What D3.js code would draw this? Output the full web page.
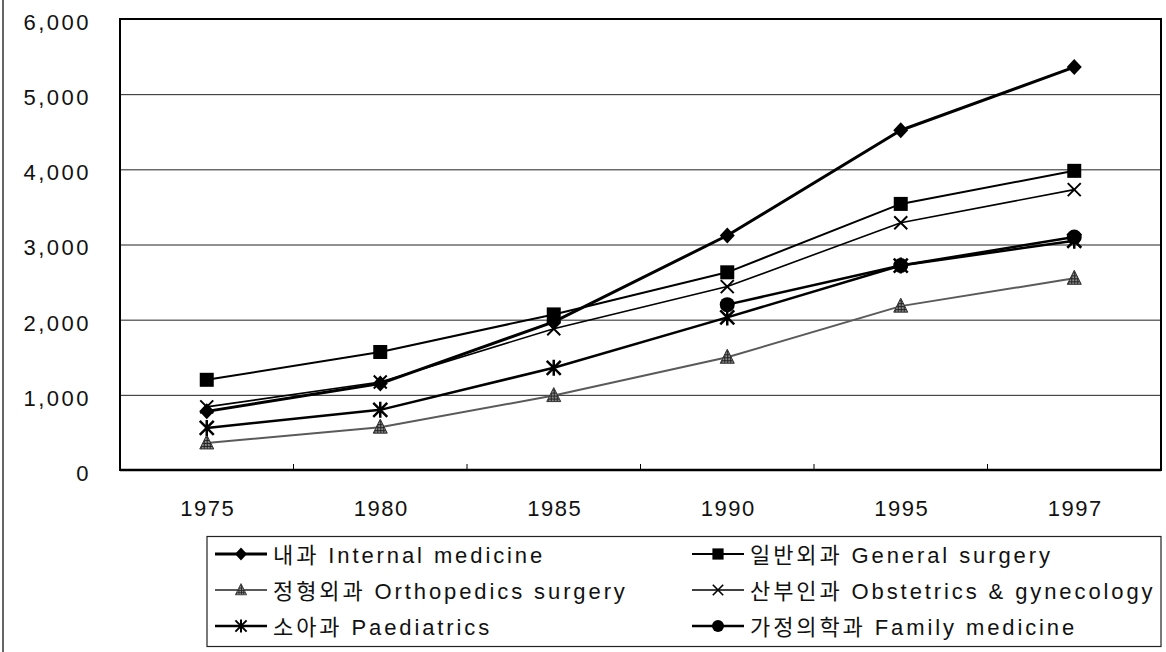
<!doctype html>
<html lang="ko">
<head>
  <meta charset="utf-8">
  <title>Specialists by field, 1975-1997</title>
  <style>
    body { margin: 0; background: #fff; }
    svg { display: block; }
    text {
      font-family: "Liberation Sans", Arial, "Noto Sans CJK KR", sans-serif;
      fill: #111;
    }
    .grid line { stroke: #222; stroke-width: 1; }
    .grid path { display: none; }
    .lbl text { font-size: 22px; letter-spacing: 2.5px; }
    .xl text { letter-spacing: 1.5px; }
    .lbl path, .lbl line { display: none; }
  </style>
</head>
<body>
<script src="https://cdn.jsdelivr.net/npm/d3@7"></script>
<script>
(function() {

var years = ["1975", "1980", "1985", "1990", "1995", "1997"];
var yTicks = [0, 1000, 2000, 3000, 4000, 5000, 6000];

var internal    = [780, 1150, 1970, 3120, 4520, 5360];
var general     = [1200, 1570, 2070, 2630, 3540, 3980];
var ortho       = [360, 570, 990, 1500, 2180, 2550];
var obstetrics  = [840, 1170, 1880, 2440, 3290, 3730];
var paediatrics = [560, 800, 1360, 2030, 2720, 3050];
var family      = [null, null, null, 2200, 2720, 3100];

var names = [
  "내과 Internal medicine",
  "일반외과 General surgery",
  "정형외과 Orthopedics surgery",
  "산부인과 Obstetrics & gynecology",
  "소아과 Paediatrics",
  "가정의학과 Family medicine"
];

var series = [
  {name: names[0], values: internal,    marker: "diamond",  color: "#000", width: 3},
  {name: names[1], values: general,     marker: "square",   color: "#000", width: 2},
  {name: names[2], values: ortho,       marker: "triangle", color: "#5a5a5a", width: 2},
  {name: names[3], values: obstetrics,  marker: "cross",    color: "#000", width: 1.6},
  {name: names[4], values: paediatrics, marker: "star",     color: "#000", width: 2.5},
  {name: names[5], values: family,      marker: "circle",   color: "#000", width: 2.5}
];

var W = 1166, H = 652;
var left = 120, right = 1161, top = 19, bottom = 470;

var svg = d3.select("body").append("svg")
    .attr("width", W)
    .attr("height", H);

var defs = svg.append("defs");
var pat = defs.append("pattern")
    .attr("id", "hatch")
    .attr("width", 3).attr("height", 3)
    .attr("patternUnits", "userSpaceOnUse");
pat.append("rect").attr("width", 3).attr("height", 3).attr("fill", "#888");
pat.append("rect").attr("width", 1).attr("height", 3).attr("fill", "#222");
pat.append("rect").attr("width", 3).attr("height", 1).attr("fill", "#222");

// page edge line
svg.append("line")
    .attr("x1", 3).attr("x2", 3).attr("y1", 0).attr("y2", H)
    .attr("stroke", "#333").attr("stroke-width", 1.5);

var x = d3.scaleBand().domain(years).range([left, right]);
var y = d3.scaleLinear().domain([0, 6000]).range([bottom, top]);
var cx = function(d) { return x(d) + x.bandwidth() / 2; };

// grid
svg.append("g")
    .attr("class", "grid")
    .attr("transform", "translate(" + left + ",0)")
    .call(d3.axisLeft(y).tickValues(yTicks.slice(1, -1)).tickSize(-(right - left)).tickFormat(""));

// axis labels
svg.append("g")
    .attr("class", "lbl")
    .attr("transform", "translate(91,0)")
    .call(d3.axisLeft(y).tickValues(yTicks).tickSize(0).tickPadding(0).tickFormat(d3.format(",")))
    .selectAll("text").attr("dy", "0.47em");

svg.append("g")
    .attr("class", "lbl xl")
    .attr("transform", "translate(1," + bottom + ")")
    .call(d3.axisBottom(x).tickSize(0).tickPadding(37))
    .selectAll("text").attr("dy", "0.4em");

// plot frame
svg.append("rect")
    .attr("x", left).attr("y", top)
    .attr("width", right - left).attr("height", bottom - top)
    .attr("fill", "none").attr("stroke", "#000").attr("stroke-width", 2);
svg.append("line")
    .attr("x1", left).attr("x2", right).attr("y1", bottom).attr("y2", bottom)
    .attr("stroke", "#000").attr("stroke-width", 2.5);

// category ticks
svg.append("g").selectAll("line")
    .data(years.slice(1))
    .enter().append("line")
    .attr("x1", function(d) { return x(d); })
    .attr("x2", function(d) { return x(d); })
    .attr("y1", bottom).attr("y2", bottom - 6)
    .attr("stroke", "#000").attr("stroke-width", 1);

function drawMarker(g, type, s) {
  var m;
  if (type === "diamond") {
    m = g.append("path").attr("d", "M0,-8L7.5,0L0,8L-7.5,0Z").attr("fill", "#000");
  } else if (type === "square") {
    m = g.append("rect").attr("x", -7).attr("y", -7).attr("width", 14).attr("height", 14).attr("fill", "#000");
  } else if (type === "triangle") {
    m = g.append("path").attr("d", "M0,-8L7,6L-7,6Z")
      .attr("fill", "url(#hatch)").attr("stroke", "#333").attr("stroke-width", 1);
  } else if (type === "cross") {
    m = g.append("path").attr("d", "M-6.5,-6.5L6.5,6.5M-6.5,6.5L6.5,-6.5")
      .attr("stroke", "#000").attr("stroke-width", 2).attr("fill", "none");
  } else if (type === "star") {
    m = g.append("path").attr("d", "M-7,-7L7,7M-7,7L7,-7M0,-8L0,8")
      .attr("stroke", "#000").attr("stroke-width", 2.5).attr("fill", "none");
  } else {
    m = g.append("circle").attr("r", 7.5).attr("fill", "#000");
  }
  if (s) m.attr("transform", "scale(" + s + ")");
}

var line = d3.line()
    .defined(function(d) { return d != null; })
    .x(function(d, i) { return cx(years[i]); })
    .y(function(d) { return y(d); });

var order = [2, 4, 5, 3, 1, 0];
order.forEach(function(k) {
  var s = series[k];
  svg.append("path")
      .attr("d", line(s.values))
      .attr("fill", "none")
      .attr("stroke", s.color)
      .attr("stroke-width", s.width)
      .attr("stroke-linejoin", "round");
});
order.forEach(function(k) {
  var s = series[k];
  s.values.forEach(function(v, i) {
    if (v == null) return;
    var g = svg.append("g").attr("transform", "translate(" + cx(years[i]) + "," + y(v) + ")");
    drawMarker(g, s.marker);
  });
});

// legend
var lg = svg.append("g");
lg.append("rect")
    .attr("x", 207).attr("y", 536.5)
    .attr("width", 1161 - 207).attr("height", 110)
    .attr("fill", "#fff").attr("stroke", "#222").attr("stroke-width", 1.2);

var colX = [215, 692];
var rowY = [554, 590, 626];
series.forEach(function(s, i) {
  var lx = colX[i % 2], ly = rowY[Math.floor(i / 2)];
  var item = lg.append("g").attr("transform", "translate(" + lx + "," + ly + ")");
  item.append("line")
      .attr("x1", 0).attr("x2", 52).attr("y1", 0).attr("y2", 0)
      .attr("stroke", s.color).attr("stroke-width", s.width);
  var mg = item.append("g").attr("transform", "translate(26,0)");
  drawMarker(mg, s.marker, 0.8);
  item.append("text")
      .attr("x", 58).attr("dy", "0.4em")
      .style("font-size", "22px")
      .style("letter-spacing", "2.9px")
      .text(s.name);
});

})();
</script>
</body>
</html>
